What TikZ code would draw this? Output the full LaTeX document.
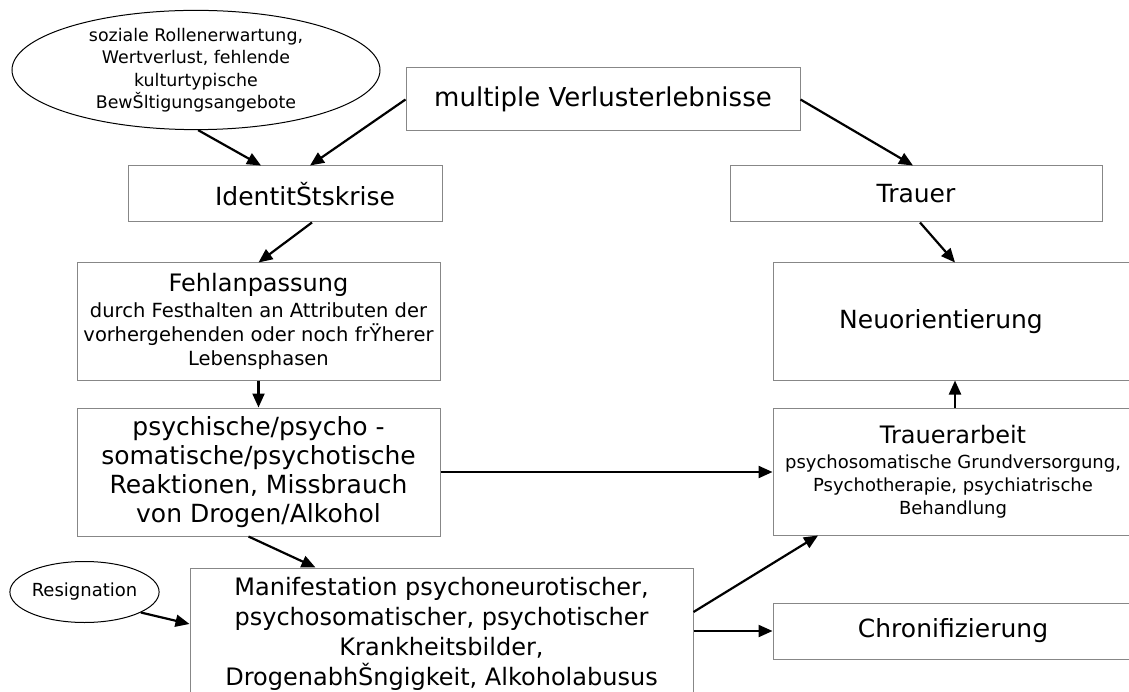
\documentclass[tikz,border=0pt]{standalone}
\usepackage{fontspec}
\setmainfont{DejaVu Sans}
\usetikzlibrary{arrows.meta,shapes.geometric,calc}
\definecolor{boxgray}{RGB}{135,135,135}
\newcommand{\fTitle}{\fontsize{25}{29}\selectfont}
\newcommand{\fMid}{\fontsize{24}{30}\selectfont}
\newcommand{\fSub}{\fontsize{19.5}{24}\selectfont}
\newcommand{\fSm}{\fontsize{18}{23}\selectfont}
\newcommand{\fEll}{\fontsize{17.4}{22.5}\selectfont}
\begin{document}
\begin{tikzpicture}[x=1pt,y=-1pt,
  box/.style={draw=boxgray,line width=1pt,rectangle,inner sep=0pt,align=center},
  ell/.style={draw=black,line width=1pt,ellipse,inner sep=0pt,align=center},
  con/.style={line width=2.2pt,-{Triangle[length=14pt,width=12pt]}}]
\useasboundingbox (0,0) rectangle (1129,692);
% nodes
\node[ell,font=\fEll,minimum width=368pt,minimum height=116pt] (ell1) at (196,70)
  {soziale Rollenerwartung,\\ Wertverlust, fehlende\\ kulturtypische\\ BewŠltigungsangebote};
\node[box,font=\fontsize{26}{30}\selectfont,minimum width=394pt,minimum height=63pt] (top) at (603,99.5)
  {multiple Verlusterlebnisse};
\node[box,font=\fTitle,minimum width=314pt,minimum height=56pt] (ident) at (285,194)
  {\hspace*{40pt}IdentitŠtskrise};
\node[box,font=\fTitle,minimum width=372pt,minimum height=56pt] (trauer) at (916,194)
  {Trauer};
\node[box,font=\fSub,minimum width=363pt,minimum height=117pt] (fehl) at (258.5,321.5)
  {{\fMid Fehlanpassung}\\[2pt] durch Festhalten an Attributen der\\ vorhergehenden oder noch frŸherer\\ Lebensphasen};
\node[box,font=\fTitle,minimum width=360pt,minimum height=117pt] (neu) at (953,321.5)
  {Neuorientierung\hspace*{24pt}};
\node[box,font=\fTitle,minimum width=363pt,minimum height=128pt] (psych) at (258.5,472)
  {psychische/psycho -\\ somatische/psychotische\\ Reaktionen, Missbrauch\\ von Drogen/Alkohol};
\node[box,font=\fSm,minimum width=360pt,minimum height=127pt] (tarb) at (953,471.5)
  {{\fMid Trauerarbeit}\\[2pt] psychosomatische Grundversorgung,\\ Psychotherapie, psychiatrische\\ Behandlung};
\node[box,font=\fMid,minimum width=503pt,minimum height=132pt] (manif) at (441.5,634)
  {Manifestation psychoneurotischer,\\ psychosomatischer, psychotischer\\ Krankheitsbilder,\\ DrogenabhŠngigkeit, Alkoholabusus};
\node[ell,font=\fontsize{18}{22}\selectfont,minimum width=145pt,minimum height=61pt] (resig) at (84.5,592)
  {Resignation};
\node[box,font=\fTitle,minimum width=360pt,minimum height=56pt] (chron) at (953,631)
  {Chronifizierung};
% connectors
\draw[con] (ell1.-88) -- ([xshift=-24pt]ident.north);
\draw[con] (top.west) -- ([xshift=25pt]ident.north);
\draw[con] (top.east) -- ([xshift=-3pt]trauer.north);
\draw[con] ([xshift=27pt]ident.south) -- (fehl.north);
\draw[con] (fehl.south) -- (psych.north);
\draw[con] ([xshift=4pt]trauer.south) -- ([xshift=2pt]neu.north);
\draw[con] ([xshift=2pt]tarb.north) -- ([xshift=2pt]neu.south);
\draw[con] (psych.east) -- (psych.east -| tarb.west);
\draw[con] ([xshift=-10pt]psych.south) -- ([xshift=-126pt]manif.north);
\draw[con] (resig.-20) -- ([yshift=10pt]manif.west);
\draw[con] ([yshift=22pt]manif.east) -- ([xshift=-135pt]tarb.south);
\draw[con] (manif.east |- chron.west) -- (chron.west);
\end{tikzpicture}
\end{document}
